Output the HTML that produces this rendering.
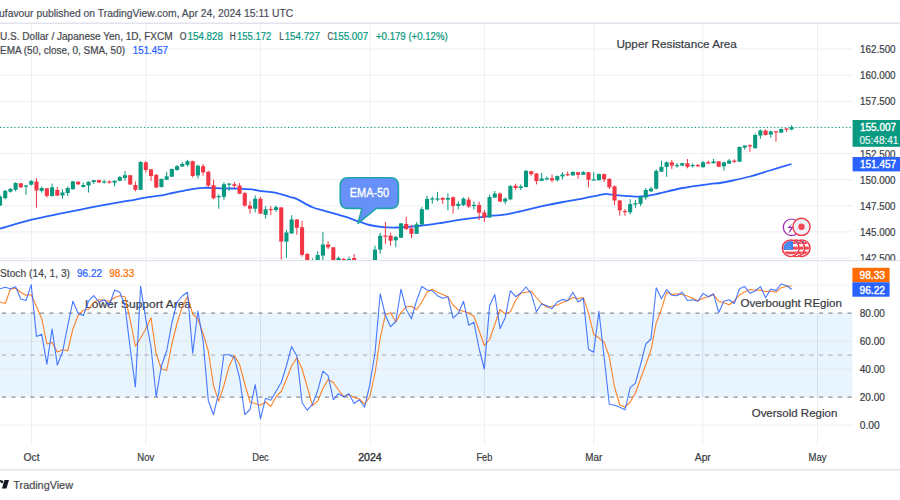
<!DOCTYPE html>
<html><head><meta charset="utf-8"><style>
html,body{margin:0;padding:0;background:#fff;}
body{width:900px;height:500px;overflow:hidden;position:relative;}
svg{position:absolute;left:0;top:0;font-family:'Liberation Sans', sans-serif;}
</style></head><body>
<svg width="900" height="500" viewBox="0 0 900 500">
<g stroke="#eceff3" stroke-width="1" fill="none">
<line x1="31.5" y1="24" x2="31.5" y2="260"/>
<line x1="31.5" y1="261" x2="31.5" y2="445.5"/>
<line x1="145.8" y1="24" x2="145.8" y2="260"/>
<line x1="145.8" y1="261" x2="145.8" y2="445.5"/>
<line x1="260.5" y1="24" x2="260.5" y2="260"/>
<line x1="260.5" y1="261" x2="260.5" y2="445.5"/>
<line x1="370.2" y1="24" x2="370.2" y2="260"/>
<line x1="370.2" y1="261" x2="370.2" y2="445.5"/>
<line x1="484.4" y1="24" x2="484.4" y2="260"/>
<line x1="484.4" y1="261" x2="484.4" y2="445.5"/>
<line x1="593.8" y1="24" x2="593.8" y2="260"/>
<line x1="593.8" y1="261" x2="593.8" y2="445.5"/>
<line x1="702.8" y1="24" x2="702.8" y2="260"/>
<line x1="702.8" y1="261" x2="702.8" y2="445.5"/>
<line x1="817.5" y1="24" x2="817.5" y2="260"/>
<line x1="817.5" y1="261" x2="817.5" y2="445.5"/>
<line x1="0" y1="49.0" x2="852.3" y2="49.0"/>
<line x1="0" y1="75.2" x2="852.3" y2="75.2"/>
<line x1="0" y1="101.3" x2="852.3" y2="101.3"/>
<line x1="0" y1="127.4" x2="852.3" y2="127.4"/>
<line x1="0" y1="153.5" x2="852.3" y2="153.5"/>
<line x1="0" y1="179.7" x2="852.3" y2="179.7"/>
<line x1="0" y1="205.8" x2="852.3" y2="205.8"/>
<line x1="0" y1="231.9" x2="852.3" y2="231.9"/>
<line x1="0" y1="258.0" x2="852.3" y2="258.0"/>
</g>
<rect x="0" y="313.2" width="852.3" height="84.0" fill="#2196F3" fill-opacity="0.1"/>
<g stroke="#eceff3" stroke-width="1">
<line x1="0" y1="285.2" x2="852.3" y2="285.2"/>
<line x1="0" y1="341.2" x2="852.3" y2="341.2"/>
<line x1="0" y1="369.2" x2="852.3" y2="369.2"/>
<line x1="0" y1="425.2" x2="852.3" y2="425.2"/>
</g>
<g stroke="#787B86" stroke-opacity="0.06" stroke-width="1">
<line x1="31.5" y1="313.2" x2="31.5" y2="397.2"/>
<line x1="145.8" y1="313.2" x2="145.8" y2="397.2"/>
<line x1="260.5" y1="313.2" x2="260.5" y2="397.2"/>
<line x1="370.2" y1="313.2" x2="370.2" y2="397.2"/>
<line x1="484.4" y1="313.2" x2="484.4" y2="397.2"/>
<line x1="593.8" y1="313.2" x2="593.8" y2="397.2"/>
<line x1="702.8" y1="313.2" x2="702.8" y2="397.2"/>
<line x1="817.5" y1="313.2" x2="817.5" y2="397.2"/>
<line x1="0" y1="341.2" x2="852.3" y2="341.2"/>
<line x1="0" y1="369.2" x2="852.3" y2="369.2"/>
</g>
<line x1="0" y1="313.2" x2="852.3" y2="313.2" stroke="#8c8f98" stroke-width="1.25" stroke-dasharray="4.2 5.3" stroke-dashoffset="-1.9"/>
<line x1="0" y1="355.2" x2="852.3" y2="355.2" stroke="#b3b6bd" stroke-width="1.25" stroke-dasharray="4.2 5.3" stroke-dashoffset="-1.9"/>
<line x1="0" y1="397.2" x2="852.3" y2="397.2" stroke="#8c8f98" stroke-width="1.25" stroke-dasharray="4.2 5.3" stroke-dashoffset="-1.9"/>
<rect x="0" y="22.5" width="900" height="1.5" fill="#e0e3eb"/>
<rect x="0" y="260" width="900" height="1.2" fill="#e0e3eb"/>
<rect x="0" y="469" width="900" height="1.5" fill="#e0e3eb"/>
<defs><clipPath id="pp"><rect x="0" y="24" width="852.3" height="236"/></clipPath><clipPath id="sp"><rect x="0" y="261.2" width="852.3" height="184"/></clipPath></defs>
<g clip-path="url(#pp)">
<line x1="0" y1="127.4" x2="852.3" y2="127.4" stroke="#089981" stroke-width="1" stroke-dasharray="1.2 2.4"/>
<path d="M0.00,228.70 C5.25,227.20 21.50,222.20 31.50,219.70 C41.50,217.20 50.25,215.70 60.00,213.70 C69.75,211.70 80.00,209.62 90.00,207.70 C100.00,205.78 112.63,203.52 120.00,202.20 C127.37,200.88 129.97,200.57 134.20,199.80 C138.43,199.03 140.37,198.43 145.40,197.60 C150.43,196.77 157.30,196.10 164.40,194.80 C171.50,193.50 181.50,190.97 188.00,189.80 C194.50,188.63 197.47,188.03 203.40,187.80 C209.33,187.57 218.00,188.27 223.60,188.40 C229.20,188.53 232.33,188.43 237.00,188.60 C241.67,188.77 247.48,188.97 251.60,189.40 C255.72,189.83 257.78,190.67 261.70,191.20 C265.62,191.73 270.38,191.63 275.10,192.60 C279.82,193.57 286.40,195.95 290.00,197.00 C293.60,198.05 293.07,197.23 296.70,198.90 C300.33,200.57 306.88,204.93 311.80,207.00 C316.72,209.07 320.67,209.68 326.20,211.30 C331.73,212.92 339.60,215.02 345.00,216.70 C350.40,218.38 354.52,220.02 358.60,221.40 C362.68,222.78 365.43,224.03 369.50,225.00 C373.57,225.97 378.22,226.78 383.00,227.20 C387.78,227.62 392.12,227.72 398.20,227.50 C404.28,227.28 412.38,226.65 419.50,225.90 C426.62,225.15 433.65,224.08 440.90,223.00 C448.15,221.92 454.92,220.55 463.00,219.40 C471.08,218.25 482.58,216.88 489.40,216.10 C496.22,215.32 498.85,215.47 503.90,214.70 C508.95,213.93 513.32,212.92 519.70,211.50 C526.08,210.08 534.98,207.78 542.20,206.20 C549.42,204.62 556.80,203.17 563.00,202.00 C569.20,200.83 572.72,200.48 579.40,199.20 C586.08,197.92 598.05,195.12 603.10,194.30 C608.15,193.48 606.62,194.08 609.70,194.30 C612.78,194.52 616.75,195.22 621.60,195.60 C626.45,195.98 633.57,196.73 638.80,196.60 C644.03,196.47 645.70,196.23 653.00,194.80 C660.30,193.37 673.27,189.78 682.60,188.00 C691.93,186.22 702.77,184.93 709.00,184.10 C715.23,183.27 716.00,183.60 720.00,183.00 C724.00,182.40 728.00,181.58 733.00,180.50 C738.00,179.42 743.83,178.17 750.00,176.50 C756.17,174.83 763.08,172.58 770.00,170.50 C776.92,168.42 787.92,165.08 791.50,164.00" fill="none" stroke="#2962FF" stroke-width="1.8"/>
<rect x="-0.50" y="195.0" width="1" height="11.00" fill="#089981"/>
<rect x="-2.05" y="196.5" width="4.1" height="9.00" fill="#089981"/>
<rect x="4.71" y="189.8" width="1" height="9.50" fill="#089981"/>
<rect x="3.16" y="190.9" width="4.1" height="7.30" fill="#089981"/>
<rect x="9.92" y="188.0" width="1" height="4.60" fill="#089981"/>
<rect x="8.37" y="189.0" width="4.1" height="2.70" fill="#089981"/>
<rect x="15.12" y="182.2" width="1" height="9.20" fill="#089981"/>
<rect x="13.57" y="183.0" width="4.1" height="6.80" fill="#089981"/>
<rect x="20.33" y="183.0" width="1" height="5.00" fill="#F23645"/>
<rect x="18.78" y="183.3" width="4.1" height="4.00" fill="#F23645"/>
<rect x="25.54" y="185.0" width="1" height="9.80" fill="#089981"/>
<rect x="23.99" y="185.5" width="4.1" height="1.20" fill="#089981"/>
<rect x="30.75" y="180.0" width="1" height="5.60" fill="#089981"/>
<rect x="29.20" y="181.0" width="4.1" height="3.70" fill="#089981"/>
<rect x="35.96" y="178.0" width="1" height="29.70" fill="#F23645"/>
<rect x="34.41" y="181.6" width="4.1" height="8.90" fill="#F23645"/>
<rect x="41.16" y="186.4" width="1" height="6.20" fill="#089981"/>
<rect x="39.61" y="188.0" width="4.1" height="2.90" fill="#089981"/>
<rect x="46.37" y="188.0" width="1" height="9.60" fill="#F23645"/>
<rect x="44.82" y="188.3" width="4.1" height="7.60" fill="#F23645"/>
<rect x="51.58" y="183.6" width="1" height="13.20" fill="#089981"/>
<rect x="50.03" y="187.3" width="4.1" height="8.60" fill="#089981"/>
<rect x="56.79" y="187.0" width="1" height="9.00" fill="#F23645"/>
<rect x="55.24" y="190.0" width="4.1" height="5.60" fill="#F23645"/>
<rect x="62.00" y="189.2" width="1" height="9.50" fill="#089981"/>
<rect x="60.45" y="192.5" width="4.1" height="2.90" fill="#089981"/>
<rect x="67.20" y="186.4" width="1" height="9.60" fill="#089981"/>
<rect x="65.65" y="188.0" width="4.1" height="5.00" fill="#089981"/>
<rect x="72.41" y="181.0" width="1" height="8.60" fill="#089981"/>
<rect x="70.86" y="181.4" width="4.1" height="7.80" fill="#089981"/>
<rect x="77.62" y="181.5" width="1" height="3.30" fill="#F23645"/>
<rect x="76.07" y="181.7" width="4.1" height="2.70" fill="#F23645"/>
<rect x="82.83" y="182.5" width="1" height="5.00" fill="#089981"/>
<rect x="81.28" y="185.0" width="4.1" height="2.00" fill="#089981"/>
<rect x="88.04" y="181.4" width="1" height="11.10" fill="#089981"/>
<rect x="86.49" y="181.7" width="4.1" height="3.80" fill="#089981"/>
<rect x="93.24" y="180.0" width="1" height="4.00" fill="#089981"/>
<rect x="91.69" y="180.2" width="4.1" height="1.80" fill="#089981"/>
<rect x="98.45" y="180.0" width="1" height="3.00" fill="#F23645"/>
<rect x="96.90" y="180.0" width="4.1" height="2.50" fill="#F23645"/>
<rect x="103.66" y="179.7" width="1" height="3.90" fill="#089981"/>
<rect x="102.11" y="181.4" width="4.1" height="1.20" fill="#089981"/>
<rect x="108.87" y="180.5" width="1" height="3.10" fill="#F23645"/>
<rect x="107.32" y="181.4" width="4.1" height="1.30" fill="#F23645"/>
<rect x="114.08" y="180.2" width="1" height="6.20" fill="#089981"/>
<rect x="112.53" y="180.8" width="4.1" height="1.90" fill="#089981"/>
<rect x="119.28" y="176.3" width="1" height="5.00" fill="#089981"/>
<rect x="117.73" y="176.9" width="4.1" height="3.90" fill="#089981"/>
<rect x="124.49" y="171.0" width="1" height="9.80" fill="#089981"/>
<rect x="122.94" y="175.2" width="4.1" height="2.80" fill="#089981"/>
<rect x="129.70" y="175.0" width="1" height="10.00" fill="#F23645"/>
<rect x="128.15" y="175.2" width="4.1" height="9.30" fill="#F23645"/>
<rect x="134.91" y="181.4" width="1" height="10.00" fill="#F23645"/>
<rect x="133.36" y="185.0" width="4.1" height="4.80" fill="#F23645"/>
<rect x="140.12" y="161.2" width="1" height="28.80" fill="#089981"/>
<rect x="138.57" y="162.0" width="4.1" height="27.80" fill="#089981"/>
<rect x="145.32" y="161.2" width="1" height="11.20" fill="#F23645"/>
<rect x="143.77" y="162.3" width="4.1" height="7.70" fill="#F23645"/>
<rect x="150.53" y="169.0" width="1" height="12.00" fill="#F23645"/>
<rect x="148.98" y="169.3" width="4.1" height="6.70" fill="#F23645"/>
<rect x="155.74" y="174.0" width="1" height="14.00" fill="#F23645"/>
<rect x="154.19" y="174.9" width="4.1" height="12.60" fill="#F23645"/>
<rect x="160.95" y="178.5" width="1" height="9.00" fill="#089981"/>
<rect x="159.40" y="178.9" width="4.1" height="8.10" fill="#089981"/>
<rect x="166.16" y="171.8" width="1" height="8.40" fill="#089981"/>
<rect x="164.61" y="176.3" width="4.1" height="3.40" fill="#089981"/>
<rect x="171.36" y="168.5" width="1" height="8.50" fill="#089981"/>
<rect x="169.81" y="169.0" width="4.1" height="7.70" fill="#089981"/>
<rect x="176.57" y="165.0" width="1" height="5.70" fill="#089981"/>
<rect x="175.02" y="166.2" width="4.1" height="3.80" fill="#089981"/>
<rect x="181.78" y="162.0" width="1" height="4.80" fill="#089981"/>
<rect x="180.23" y="164.0" width="4.1" height="2.60" fill="#089981"/>
<rect x="186.99" y="159.9" width="1" height="6.70" fill="#089981"/>
<rect x="185.44" y="161.2" width="4.1" height="3.70" fill="#089981"/>
<rect x="192.20" y="160.6" width="1" height="16.80" fill="#F23645"/>
<rect x="190.65" y="161.2" width="4.1" height="14.80" fill="#F23645"/>
<rect x="197.40" y="164.6" width="1" height="13.90" fill="#089981"/>
<rect x="195.85" y="165.7" width="4.1" height="9.80" fill="#089981"/>
<rect x="202.61" y="164.0" width="1" height="11.80" fill="#F23645"/>
<rect x="201.06" y="166.2" width="4.1" height="6.20" fill="#F23645"/>
<rect x="207.82" y="170.7" width="1" height="16.80" fill="#F23645"/>
<rect x="206.27" y="171.8" width="4.1" height="13.80" fill="#F23645"/>
<rect x="213.03" y="179.7" width="1" height="19.60" fill="#F23645"/>
<rect x="211.48" y="185.3" width="4.1" height="12.90" fill="#F23645"/>
<rect x="218.24" y="194.2" width="1" height="14.50" fill="#089981"/>
<rect x="216.69" y="196.0" width="4.1" height="1.20" fill="#089981"/>
<rect x="223.44" y="182.2" width="1" height="17.60" fill="#089981"/>
<rect x="221.89" y="184.2" width="4.1" height="12.60" fill="#089981"/>
<rect x="228.65" y="183.0" width="1" height="7.90" fill="#089981"/>
<rect x="227.10" y="183.6" width="4.1" height="1.20" fill="#089981"/>
<rect x="233.86" y="181.9" width="1" height="6.10" fill="#F23645"/>
<rect x="232.31" y="184.2" width="4.1" height="1.60" fill="#F23645"/>
<rect x="239.07" y="183.0" width="1" height="11.00" fill="#F23645"/>
<rect x="237.52" y="185.6" width="4.1" height="8.10" fill="#F23645"/>
<rect x="244.28" y="192.0" width="1" height="14.80" fill="#F23645"/>
<rect x="242.73" y="193.1" width="4.1" height="12.50" fill="#F23645"/>
<rect x="249.48" y="201.2" width="1" height="12.40" fill="#F23645"/>
<rect x="247.93" y="205.6" width="4.1" height="3.10" fill="#F23645"/>
<rect x="254.69" y="195.4" width="1" height="17.00" fill="#089981"/>
<rect x="253.14" y="198.7" width="4.1" height="10.00" fill="#089981"/>
<rect x="259.90" y="197.0" width="1" height="17.00" fill="#F23645"/>
<rect x="258.35" y="198.7" width="4.1" height="14.90" fill="#F23645"/>
<rect x="265.11" y="206.2" width="1" height="12.40" fill="#089981"/>
<rect x="263.56" y="209.3" width="4.1" height="5.60" fill="#089981"/>
<rect x="270.32" y="206.2" width="1" height="8.70" fill="#F23645"/>
<rect x="268.77" y="209.0" width="4.1" height="1.20" fill="#F23645"/>
<rect x="275.52" y="205.6" width="1" height="6.20" fill="#089981"/>
<rect x="273.97" y="207.2" width="4.1" height="2.80" fill="#089981"/>
<rect x="280.73" y="207.0" width="1" height="52.60" fill="#F23645"/>
<rect x="279.18" y="207.4" width="4.1" height="34.20" fill="#F23645"/>
<rect x="285.94" y="229.6" width="1" height="28.10" fill="#089981"/>
<rect x="284.39" y="232.5" width="4.1" height="9.10" fill="#089981"/>
<rect x="291.15" y="215.2" width="1" height="18.80" fill="#089981"/>
<rect x="289.60" y="219.5" width="4.1" height="14.00" fill="#089981"/>
<rect x="296.36" y="219.0" width="1" height="15.70" fill="#F23645"/>
<rect x="294.81" y="219.5" width="4.1" height="8.30" fill="#F23645"/>
<rect x="301.56" y="221.0" width="1" height="35.60" fill="#F23645"/>
<rect x="300.01" y="227.2" width="4.1" height="27.60" fill="#F23645"/>
<rect x="306.77" y="253.0" width="1" height="17.00" fill="#F23645"/>
<rect x="305.22" y="254.0" width="4.1" height="8.00" fill="#F23645"/>
<rect x="311.98" y="258.5" width="1" height="16.50" fill="#089981"/>
<rect x="310.43" y="262.0" width="4.1" height="8.00" fill="#089981"/>
<rect x="317.19" y="251.2" width="1" height="18.80" fill="#089981"/>
<rect x="315.64" y="255.0" width="4.1" height="10.00" fill="#089981"/>
<rect x="322.40" y="232.0" width="1" height="30.00" fill="#089981"/>
<rect x="320.85" y="244.5" width="4.1" height="11.10" fill="#089981"/>
<rect x="327.60" y="241.2" width="1" height="7.80" fill="#F23645"/>
<rect x="326.05" y="244.5" width="4.1" height="2.80" fill="#F23645"/>
<rect x="332.81" y="247.0" width="1" height="21.00" fill="#F23645"/>
<rect x="331.26" y="247.3" width="4.1" height="17.70" fill="#F23645"/>
<rect x="338.02" y="256.6" width="1" height="13.40" fill="#089981"/>
<rect x="336.47" y="258.0" width="4.1" height="7.00" fill="#089981"/>
<rect x="343.23" y="258.0" width="1" height="12.00" fill="#F23645"/>
<rect x="341.68" y="259.0" width="4.1" height="6.00" fill="#F23645"/>
<rect x="348.44" y="256.6" width="1" height="13.40" fill="#089981"/>
<rect x="346.89" y="259.0" width="4.1" height="6.00" fill="#089981"/>
<rect x="353.64" y="254.0" width="1" height="16.00" fill="#F23645"/>
<rect x="352.09" y="258.0" width="4.1" height="7.00" fill="#F23645"/>
<rect x="358.85" y="262.0" width="1" height="13.00" fill="#F23645"/>
<rect x="357.30" y="265.0" width="4.1" height="5.00" fill="#F23645"/>
<rect x="364.06" y="263.0" width="1" height="17.00" fill="#089981"/>
<rect x="362.51" y="265.0" width="4.1" height="10.00" fill="#089981"/>
<rect x="369.27" y="262.0" width="1" height="13.00" fill="#089981"/>
<rect x="367.72" y="262.0" width="4.1" height="10.00" fill="#089981"/>
<rect x="374.48" y="245.6" width="1" height="19.40" fill="#089981"/>
<rect x="372.93" y="249.7" width="4.1" height="12.30" fill="#089981"/>
<rect x="379.68" y="232.8" width="1" height="21.00" fill="#089981"/>
<rect x="378.13" y="235.7" width="4.1" height="14.00" fill="#089981"/>
<rect x="384.89" y="221.8" width="1" height="22.10" fill="#F23645"/>
<rect x="383.34" y="235.5" width="4.1" height="1.20" fill="#F23645"/>
<rect x="390.10" y="232.5" width="1" height="13.10" fill="#F23645"/>
<rect x="388.55" y="235.7" width="4.1" height="5.00" fill="#F23645"/>
<rect x="395.31" y="235.7" width="1" height="11.50" fill="#089981"/>
<rect x="393.76" y="237.0" width="4.1" height="3.30" fill="#089981"/>
<rect x="400.52" y="223.0" width="1" height="15.00" fill="#089981"/>
<rect x="398.97" y="223.4" width="4.1" height="14.30" fill="#089981"/>
<rect x="405.72" y="216.9" width="1" height="12.60" fill="#F23645"/>
<rect x="404.17" y="224.0" width="4.1" height="5.20" fill="#F23645"/>
<rect x="410.93" y="225.0" width="1" height="13.20" fill="#F23645"/>
<rect x="409.38" y="228.4" width="4.1" height="5.40" fill="#F23645"/>
<rect x="416.14" y="222.0" width="1" height="12.00" fill="#089981"/>
<rect x="414.59" y="224.3" width="4.1" height="9.50" fill="#089981"/>
<rect x="421.35" y="207.0" width="1" height="18.00" fill="#089981"/>
<rect x="419.80" y="209.2" width="4.1" height="15.40" fill="#089981"/>
<rect x="426.56" y="195.6" width="1" height="14.40" fill="#089981"/>
<rect x="425.01" y="198.9" width="4.1" height="10.60" fill="#089981"/>
<rect x="431.76" y="196.4" width="1" height="7.40" fill="#089981"/>
<rect x="430.21" y="198.4" width="4.1" height="1.20" fill="#089981"/>
<rect x="436.97" y="191.8" width="1" height="9.50" fill="#089981"/>
<rect x="435.42" y="198.5" width="4.1" height="1.20" fill="#089981"/>
<rect x="442.18" y="197.0" width="1" height="7.00" fill="#F23645"/>
<rect x="440.63" y="198.0" width="4.1" height="1.70" fill="#F23645"/>
<rect x="447.39" y="193.4" width="1" height="16.90" fill="#089981"/>
<rect x="445.84" y="198.0" width="4.1" height="1.70" fill="#089981"/>
<rect x="452.60" y="196.4" width="1" height="17.20" fill="#F23645"/>
<rect x="451.05" y="197.2" width="4.1" height="8.70" fill="#F23645"/>
<rect x="457.80" y="201.3" width="1" height="8.20" fill="#089981"/>
<rect x="456.25" y="203.8" width="4.1" height="2.10" fill="#089981"/>
<rect x="463.01" y="197.5" width="1" height="8.50" fill="#089981"/>
<rect x="461.46" y="198.6" width="4.1" height="6.40" fill="#089981"/>
<rect x="468.22" y="197.0" width="1" height="11.00" fill="#F23645"/>
<rect x="466.67" y="199.6" width="4.1" height="6.90" fill="#F23645"/>
<rect x="473.43" y="201.6" width="1" height="7.90" fill="#089981"/>
<rect x="471.88" y="204.9" width="4.1" height="1.20" fill="#089981"/>
<rect x="478.64" y="201.6" width="1" height="18.40" fill="#F23645"/>
<rect x="477.09" y="204.9" width="4.1" height="7.90" fill="#F23645"/>
<rect x="483.84" y="210.0" width="1" height="12.00" fill="#F23645"/>
<rect x="482.29" y="212.5" width="4.1" height="4.90" fill="#F23645"/>
<rect x="489.05" y="194.6" width="1" height="23.40" fill="#089981"/>
<rect x="487.50" y="197.0" width="4.1" height="20.40" fill="#089981"/>
<rect x="494.26" y="191.0" width="1" height="7.00" fill="#089981"/>
<rect x="492.71" y="193.6" width="4.1" height="4.00" fill="#089981"/>
<rect x="499.47" y="192.5" width="1" height="9.50" fill="#F23645"/>
<rect x="497.92" y="193.6" width="4.1" height="8.00" fill="#F23645"/>
<rect x="504.68" y="197.6" width="1" height="6.60" fill="#089981"/>
<rect x="503.13" y="198.7" width="4.1" height="2.90" fill="#089981"/>
<rect x="509.88" y="185.0" width="1" height="15.20" fill="#089981"/>
<rect x="508.33" y="186.1" width="4.1" height="13.20" fill="#089981"/>
<rect x="515.09" y="183.7" width="1" height="6.00" fill="#F23645"/>
<rect x="513.54" y="185.7" width="4.1" height="2.30" fill="#F23645"/>
<rect x="520.30" y="184.4" width="1" height="5.90" fill="#089981"/>
<rect x="518.75" y="186.4" width="4.1" height="1.60" fill="#089981"/>
<rect x="525.51" y="169.9" width="1" height="17.60" fill="#089981"/>
<rect x="523.96" y="170.8" width="4.1" height="16.20" fill="#089981"/>
<rect x="530.72" y="171.0" width="1" height="4.80" fill="#F23645"/>
<rect x="529.17" y="171.2" width="4.1" height="3.00" fill="#F23645"/>
<rect x="535.92" y="173.2" width="1" height="11.20" fill="#F23645"/>
<rect x="534.37" y="173.5" width="4.1" height="7.60" fill="#F23645"/>
<rect x="541.13" y="172.9" width="1" height="8.30" fill="#089981"/>
<rect x="539.58" y="178.5" width="4.1" height="2.30" fill="#089981"/>
<rect x="546.34" y="176.5" width="1" height="3.90" fill="#089981"/>
<rect x="544.79" y="178.2" width="4.1" height="1.20" fill="#089981"/>
<rect x="551.55" y="174.5" width="1" height="7.90" fill="#F23645"/>
<rect x="550.00" y="178.2" width="4.1" height="2.20" fill="#F23645"/>
<rect x="556.76" y="175.5" width="1" height="5.90" fill="#089981"/>
<rect x="555.21" y="176.1" width="4.1" height="4.10" fill="#089981"/>
<rect x="561.96" y="172.2" width="1" height="7.20" fill="#089981"/>
<rect x="560.41" y="174.5" width="4.1" height="1.90" fill="#089981"/>
<rect x="567.17" y="171.5" width="1" height="4.60" fill="#F23645"/>
<rect x="565.62" y="174.1" width="4.1" height="1.20" fill="#F23645"/>
<rect x="572.38" y="171.5" width="1" height="4.30" fill="#089981"/>
<rect x="570.83" y="171.9" width="4.1" height="3.50" fill="#089981"/>
<rect x="577.59" y="172.0" width="1" height="6.70" fill="#F23645"/>
<rect x="576.04" y="172.2" width="4.1" height="2.60" fill="#F23645"/>
<rect x="582.80" y="171.0" width="1" height="4.00" fill="#089981"/>
<rect x="581.25" y="172.2" width="4.1" height="2.60" fill="#089981"/>
<rect x="588.00" y="172.0" width="1" height="15.30" fill="#F23645"/>
<rect x="586.45" y="172.2" width="4.1" height="7.60" fill="#F23645"/>
<rect x="593.21" y="172.2" width="1" height="8.30" fill="#089981"/>
<rect x="591.66" y="179.4" width="4.1" height="1.20" fill="#089981"/>
<rect x="598.42" y="173.5" width="1" height="7.20" fill="#089981"/>
<rect x="596.87" y="174.1" width="4.1" height="6.00" fill="#089981"/>
<rect x="603.63" y="173.5" width="1" height="8.50" fill="#F23645"/>
<rect x="602.08" y="174.1" width="4.1" height="5.30" fill="#F23645"/>
<rect x="608.84" y="178.0" width="1" height="11.00" fill="#F23645"/>
<rect x="607.29" y="179.0" width="4.1" height="8.30" fill="#F23645"/>
<rect x="614.04" y="185.3" width="1" height="19.60" fill="#F23645"/>
<rect x="612.49" y="186.4" width="4.1" height="14.10" fill="#F23645"/>
<rect x="619.25" y="199.9" width="1" height="15.80" fill="#F23645"/>
<rect x="617.70" y="200.5" width="4.1" height="9.90" fill="#F23645"/>
<rect x="624.46" y="209.1" width="1" height="6.60" fill="#F23645"/>
<rect x="622.91" y="211.0" width="4.1" height="1.20" fill="#F23645"/>
<rect x="629.67" y="199.2" width="1" height="15.20" fill="#089981"/>
<rect x="628.12" y="204.1" width="4.1" height="8.30" fill="#089981"/>
<rect x="634.88" y="199.9" width="1" height="7.90" fill="#089981"/>
<rect x="633.33" y="203.2" width="4.1" height="1.30" fill="#089981"/>
<rect x="640.08" y="195.9" width="1" height="10.30" fill="#089981"/>
<rect x="638.53" y="197.0" width="4.1" height="6.80" fill="#089981"/>
<rect x="645.29" y="188.0" width="1" height="11.90" fill="#089981"/>
<rect x="643.74" y="190.0" width="4.1" height="7.50" fill="#089981"/>
<rect x="650.50" y="186.7" width="1" height="5.30" fill="#089981"/>
<rect x="648.95" y="188.6" width="4.1" height="2.70" fill="#089981"/>
<rect x="655.71" y="169.3" width="1" height="20.10" fill="#089981"/>
<rect x="654.16" y="170.9" width="4.1" height="17.80" fill="#089981"/>
<rect x="660.92" y="160.6" width="1" height="11.40" fill="#089981"/>
<rect x="659.37" y="166.9" width="4.1" height="4.70" fill="#089981"/>
<rect x="666.12" y="161.4" width="1" height="15.40" fill="#089981"/>
<rect x="664.57" y="162.3" width="4.1" height="4.60" fill="#089981"/>
<rect x="671.33" y="160.0" width="1" height="8.90" fill="#F23645"/>
<rect x="669.78" y="162.3" width="4.1" height="3.30" fill="#F23645"/>
<rect x="676.54" y="163.0" width="1" height="4.60" fill="#089981"/>
<rect x="674.99" y="165.0" width="4.1" height="1.20" fill="#089981"/>
<rect x="681.75" y="162.7" width="1" height="3.30" fill="#089981"/>
<rect x="680.20" y="163.2" width="4.1" height="2.40" fill="#089981"/>
<rect x="686.96" y="159.0" width="1" height="9.30" fill="#F23645"/>
<rect x="685.41" y="163.2" width="4.1" height="3.70" fill="#F23645"/>
<rect x="692.16" y="163.2" width="1" height="4.40" fill="#089981"/>
<rect x="690.61" y="165.0" width="4.1" height="1.20" fill="#089981"/>
<rect x="697.37" y="164.0" width="1" height="3.20" fill="#F23645"/>
<rect x="695.82" y="165.0" width="4.1" height="1.20" fill="#F23645"/>
<rect x="702.58" y="161.0" width="1" height="6.60" fill="#089981"/>
<rect x="701.03" y="162.3" width="4.1" height="4.90" fill="#089981"/>
<rect x="707.79" y="160.6" width="1" height="3.20" fill="#F23645"/>
<rect x="706.24" y="162.3" width="4.1" height="1.30" fill="#F23645"/>
<rect x="713.00" y="159.0" width="1" height="4.40" fill="#089981"/>
<rect x="711.45" y="161.4" width="4.1" height="1.80" fill="#089981"/>
<rect x="718.20" y="161.0" width="1" height="6.20" fill="#F23645"/>
<rect x="716.65" y="161.4" width="4.1" height="5.30" fill="#F23645"/>
<rect x="723.41" y="161.7" width="1" height="8.90" fill="#089981"/>
<rect x="721.86" y="162.3" width="4.1" height="4.00" fill="#089981"/>
<rect x="728.62" y="159.0" width="1" height="5.00" fill="#089981"/>
<rect x="727.07" y="160.6" width="4.1" height="3.00" fill="#089981"/>
<rect x="733.83" y="159.3" width="1" height="3.70" fill="#F23645"/>
<rect x="732.28" y="160.6" width="4.1" height="1.20" fill="#F23645"/>
<rect x="739.04" y="146.4" width="1" height="15.60" fill="#089981"/>
<rect x="737.49" y="147.0" width="4.1" height="14.70" fill="#089981"/>
<rect x="744.24" y="145.3" width="1" height="4.40" fill="#089981"/>
<rect x="742.69" y="145.5" width="4.1" height="2.10" fill="#089981"/>
<rect x="749.45" y="144.3" width="1" height="7.50" fill="#F23645"/>
<rect x="747.90" y="145.2" width="4.1" height="1.20" fill="#F23645"/>
<rect x="754.66" y="133.5" width="1" height="15.00" fill="#089981"/>
<rect x="753.11" y="135.0" width="4.1" height="13.20" fill="#089981"/>
<rect x="759.87" y="129.4" width="1" height="9.50" fill="#089981"/>
<rect x="758.32" y="130.5" width="4.1" height="5.00" fill="#089981"/>
<rect x="765.08" y="129.5" width="1" height="6.00" fill="#F23645"/>
<rect x="763.53" y="130.5" width="4.1" height="4.50" fill="#F23645"/>
<rect x="770.28" y="130.8" width="1" height="6.90" fill="#089981"/>
<rect x="768.73" y="131.4" width="4.1" height="3.20" fill="#089981"/>
<rect x="775.49" y="131.0" width="1" height="10.60" fill="#F23645"/>
<rect x="773.94" y="131.2" width="4.1" height="1.20" fill="#F23645"/>
<rect x="780.70" y="128.5" width="1" height="4.50" fill="#089981"/>
<rect x="779.15" y="129.0" width="4.1" height="3.60" fill="#089981"/>
<rect x="785.91" y="128.3" width="1" height="3.60" fill="#F23645"/>
<rect x="784.36" y="128.5" width="4.1" height="1.20" fill="#F23645"/>
<rect x="791.12" y="125.1" width="1" height="5.20" fill="#089981"/>
<rect x="789.57" y="127.2" width="4.1" height="2.20" fill="#089981"/>
</g>
<g clip-path="url(#sp)">
<text x="85.1" y="307.9" font-size="11.3" fill="#131722" text-anchor="start" font-weight="normal" textLength="105.9" lengthAdjust="spacingAndGlyphs" stroke="#131722" stroke-width="0.22" opacity="0.85">Lower Support Area</text>
<text x="740.4" y="307.4" font-size="11.3" fill="#131722" text-anchor="start" font-weight="normal" textLength="101.6" lengthAdjust="spacingAndGlyphs" stroke="#131722" stroke-width="0.22" opacity="0.85">Overbought REgion</text>
<text x="751.7" y="416.7" font-size="11.3" fill="#131722" text-anchor="start" font-weight="normal" textLength="85.6" lengthAdjust="spacingAndGlyphs" stroke="#131722" stroke-width="0.22" opacity="0.85">Oversold Region</text>
<polyline points="0.0,302.0 5.2,303.5 10.4,289.2 15.6,288.2 20.8,292.2 26.0,295.2 31.2,294.8 36.5,306.5 41.7,318.5 46.9,344.0 52.1,342.5 57.3,352.0 62.5,349.7 67.7,350.7 72.9,329.0 78.1,315.5 83.3,310.2 88.5,309.5 93.7,302.3 99.0,299.7 104.2,300.2 109.4,301.2 114.6,297.5 119.8,295.7 125.0,296.7 130.2,320.0 135.4,346.2 140.6,338.0 145.8,329.0 151.0,317.7 156.2,354.0 161.4,369.0 166.7,370.5 171.9,344.0 177.1,323.0 182.3,306.5 187.5,296.7 192.7,314.0 197.9,319.2 203.1,333.5 208.3,351.0 213.5,385.5 218.7,401.2 223.9,385.5 229.2,366.0 234.4,355.5 239.6,364.5 244.8,384.0 250.0,402.0 255.2,403.5 260.4,405.3 265.6,402.0 270.8,406.5 276.0,396.7 281.2,391.5 286.4,379.5 291.6,366.0 296.9,357.7 302.1,369.0 307.3,387.0 312.5,405.7 317.7,401.2 322.9,388.5 328.1,379.5 333.3,382.5 338.5,390.0 343.7,396.7 348.9,394.5 354.1,397.5 359.4,399.0 364.6,404.2 369.8,396.7 375.0,373.5 380.2,338.0 385.4,314.7 390.6,312.8 395.8,322.0 401.0,312.5 406.2,306.8 411.4,306.2 416.6,309.8 421.8,302.0 427.1,292.2 432.3,289.2 437.5,292.2 442.7,294.5 447.9,296.7 453.1,305.0 458.3,309.8 463.5,311.3 468.7,313.2 473.9,316.2 479.1,330.5 484.3,345.5 489.6,339.5 494.8,324.5 500.0,309.5 505.2,314.0 510.4,311.7 515.6,300.5 520.8,293.3 526.0,292.2 531.2,291.2 536.4,297.5 541.6,303.5 546.8,307.2 552.0,306.2 557.3,305.0 562.5,302.4 567.7,300.5 572.9,297.5 578.1,298.7 583.3,297.5 588.5,313.2 593.7,334.2 598.9,338.0 604.1,342.0 609.3,357.0 614.5,387.0 619.8,405.0 625.0,407.2 630.2,402.0 635.4,393.0 640.6,378.7 645.8,364.5 651.0,350.0 656.2,323.0 661.4,309.5 666.6,292.2 671.8,294.5 677.0,293.7 682.2,294.5 687.5,296.0 692.7,298.2 697.9,300.8 703.1,298.2 708.3,296.7 713.5,294.8 718.7,301.2 723.9,302.7 729.1,304.7 734.3,301.2 739.5,295.0 744.7,291.7 750.0,289.5 755.2,290.3 760.4,290.0 765.6,291.7 770.8,291.0 776.0,292.3 781.2,287.7 786.4,286.3 791.6,286.0" fill="none" stroke="#FF6D00" stroke-opacity="0.85" stroke-width="1.1" stroke-linejoin="round"/>
<polyline points="0.0,288.8 5.2,287.3 10.4,288.8 15.6,286.7 20.8,299.0 26.0,300.5 31.2,284.7 36.5,336.5 41.7,334.2 46.9,364.2 52.1,329.0 57.3,365.0 62.5,352.0 67.7,326.0 72.9,301.2 78.1,313.2 83.3,315.5 88.5,301.2 93.7,295.7 99.0,302.0 104.2,299.7 109.4,305.0 114.6,290.0 119.8,292.2 125.0,305.7 130.2,348.5 135.4,387.0 140.6,286.2 145.8,319.0 151.0,347.0 156.2,396.7 161.4,366.0 166.7,351.0 171.9,323.0 177.1,302.0 182.3,296.0 187.5,292.2 192.7,353.2 197.9,311.0 203.1,341.0 208.3,400.5 213.5,414.7 218.7,393.0 223.9,354.7 229.2,354.7 234.4,357.7 239.6,378.0 244.8,414.7 250.0,409.5 255.2,384.7 260.4,419.0 265.6,398.2 270.8,400.2 276.0,391.5 281.2,382.5 286.4,366.0 291.6,346.5 296.9,356.2 302.1,402.7 307.3,410.2 312.5,404.2 317.7,390.7 322.9,371.2 328.1,375.7 333.3,399.7 338.5,393.7 343.7,396.7 348.9,393.7 354.1,403.5 359.4,399.7 364.6,407.2 369.8,384.7 375.0,353.0 380.2,293.7 385.4,315.5 390.6,326.7 395.8,321.5 401.0,289.2 406.2,309.5 411.4,318.8 416.6,300.5 421.8,286.5 427.1,290.0 432.3,290.7 437.5,295.7 442.7,298.2 447.9,296.7 453.1,318.2 458.3,313.2 463.5,301.2 468.7,325.2 473.9,322.2 479.1,348.5 484.3,369.0 489.6,305.7 494.8,294.5 500.0,328.7 505.2,317.7 510.4,290.7 515.6,296.7 520.8,293.0 526.0,287.0 531.2,293.7 536.4,311.7 541.6,303.8 546.8,305.7 552.0,308.7 557.3,302.0 562.5,299.4 567.7,300.8 572.9,292.2 578.1,302.0 583.3,298.2 588.5,349.2 593.7,352.2 598.9,311.3 604.1,357.0 609.3,404.2 614.5,405.3 619.8,407.2 625.0,409.8 630.2,387.7 635.4,383.2 640.6,364.5 645.8,344.0 651.0,339.0 656.2,287.7 661.4,298.7 666.6,289.7 671.8,295.2 677.0,295.7 682.2,292.2 687.5,300.5 692.7,299.7 697.9,301.2 703.1,293.4 708.3,296.7 713.5,293.7 718.7,312.5 723.9,301.2 729.1,299.7 734.3,303.5 739.5,288.7 744.7,286.6 750.0,293.3 755.2,291.0 760.4,286.6 765.6,297.7 770.8,289.0 776.0,290.6 781.2,284.0 786.4,285.5 791.6,289.3" fill="none" stroke="#2962FF" stroke-opacity="0.85" stroke-width="1.1" stroke-linejoin="round"/>
</g>
<text x="-1" y="16.9" font-size="11.6" fill="#4a4e58" text-anchor="start" font-weight="normal" textLength="294.3" lengthAdjust="spacingAndGlyphs" stroke="#4a4e58" stroke-width="0.22">ufavour published on TradingView.com, Apr 24, 2024 15:11 UTC</text>
<text x="0" y="39.7" font-size="10" fill="#131722" text-anchor="start" font-weight="normal" textLength="172.7" lengthAdjust="spacingAndGlyphs" stroke="#131722" stroke-width="0.22" opacity="0.8">U.S. Dollar / Japanese Yen, 1D, FXCM</text>
<text x="179.7" y="39.7" font-size="10" fill="#131722" text-anchor="start" font-weight="normal" textLength="6.8" lengthAdjust="spacingAndGlyphs" stroke="#131722" stroke-width="0.22" opacity="0.8">O</text>
<text x="187.5" y="39.7" font-size="10" fill="#089981" text-anchor="start" font-weight="normal" textLength="35.5" lengthAdjust="spacingAndGlyphs" stroke="#089981" stroke-width="0.22">154.828</text>
<text x="229.7" y="39.7" font-size="10" fill="#131722" text-anchor="start" font-weight="normal" textLength="6" lengthAdjust="spacingAndGlyphs" stroke="#131722" stroke-width="0.22" opacity="0.8">H</text>
<text x="237" y="39.7" font-size="10" fill="#089981" text-anchor="start" font-weight="normal" textLength="34.3" lengthAdjust="spacingAndGlyphs" stroke="#089981" stroke-width="0.22">155.172</text>
<text x="279.2" y="39.7" font-size="10" fill="#131722" text-anchor="start" font-weight="normal" textLength="4.6" lengthAdjust="spacingAndGlyphs" stroke="#131722" stroke-width="0.22" opacity="0.8">L</text>
<text x="284.7" y="39.7" font-size="10" fill="#089981" text-anchor="start" font-weight="normal" textLength="35.3" lengthAdjust="spacingAndGlyphs" stroke="#089981" stroke-width="0.22">154.727</text>
<text x="327.5" y="39.7" font-size="10" fill="#131722" text-anchor="start" font-weight="normal" textLength="5.6" lengthAdjust="spacingAndGlyphs" stroke="#131722" stroke-width="0.22" opacity="0.8">C</text>
<text x="332.7" y="39.7" font-size="10" fill="#089981" text-anchor="start" font-weight="normal" textLength="35.6" lengthAdjust="spacingAndGlyphs" stroke="#089981" stroke-width="0.22">155.007</text>
<text x="376" y="39.7" font-size="10" fill="#089981" text-anchor="start" font-weight="normal" textLength="71.7" lengthAdjust="spacingAndGlyphs" stroke="#089981" stroke-width="0.22">+0.179 (+0.12%)</text>
<text x="0" y="54.4" font-size="10" fill="#131722" text-anchor="start" font-weight="normal" textLength="125" lengthAdjust="spacingAndGlyphs" stroke="#131722" stroke-width="0.22" opacity="0.8">EMA (50, close, 0, SMA, 50)</text>
<text x="132.8" y="54.4" font-size="10" fill="#2962FF" text-anchor="start" font-weight="normal" textLength="35.2" lengthAdjust="spacingAndGlyphs" stroke="#2962FF" stroke-width="0.22">151.457</text>
<text x="0" y="277" font-size="10" fill="#131722" text-anchor="start" font-weight="normal" textLength="70" lengthAdjust="spacingAndGlyphs" stroke="#131722" stroke-width="0.22" opacity="0.8">Stoch (14, 1, 3)</text>
<text x="77" y="277" font-size="10" fill="#2962FF" text-anchor="start" font-weight="normal" textLength="25" lengthAdjust="spacingAndGlyphs" stroke="#2962FF" stroke-width="0.22">96.22</text>
<text x="109.2" y="277" font-size="10" fill="#FF6D00" text-anchor="start" font-weight="normal" textLength="25" lengthAdjust="spacingAndGlyphs" stroke="#FF6D00" stroke-width="0.22">98.33</text>
<text x="616.4" y="48.3" font-size="11.3" fill="#131722" text-anchor="start" font-weight="normal" textLength="120.5" lengthAdjust="spacingAndGlyphs" stroke="#131722" stroke-width="0.22" opacity="0.85">Upper Resistance Area</text>
<clipPath id="pax"><rect x="852" y="24" width="48" height="236.2"/></clipPath><g clip-path="url(#pax)">
<text x="860" y="53.24749999999999" font-size="11.5" fill="#131722" text-anchor="start" font-weight="normal" textLength="35.6" lengthAdjust="spacingAndGlyphs" stroke="#131722" stroke-width="0.22" opacity="0.85">162.500</text>
<text x="860" y="79.37" font-size="11.5" fill="#131722" text-anchor="start" font-weight="normal" textLength="35.6" lengthAdjust="spacingAndGlyphs" stroke="#131722" stroke-width="0.22" opacity="0.85">160.000</text>
<text x="860" y="105.4925" font-size="11.5" fill="#131722" text-anchor="start" font-weight="normal" textLength="35.6" lengthAdjust="spacingAndGlyphs" stroke="#131722" stroke-width="0.22" opacity="0.85">157.500</text>
<text x="860" y="157.73749999999998" font-size="11.5" fill="#131722" text-anchor="start" font-weight="normal" textLength="35.6" lengthAdjust="spacingAndGlyphs" stroke="#131722" stroke-width="0.22" opacity="0.85">152.500</text>
<text x="860" y="183.85999999999999" font-size="11.5" fill="#131722" text-anchor="start" font-weight="normal" textLength="35.6" lengthAdjust="spacingAndGlyphs" stroke="#131722" stroke-width="0.22" opacity="0.85">150.000</text>
<text x="860" y="209.9825" font-size="11.5" fill="#131722" text-anchor="start" font-weight="normal" textLength="35.6" lengthAdjust="spacingAndGlyphs" stroke="#131722" stroke-width="0.22" opacity="0.85">147.500</text>
<text x="860" y="236.105" font-size="11.5" fill="#131722" text-anchor="start" font-weight="normal" textLength="35.6" lengthAdjust="spacingAndGlyphs" stroke="#131722" stroke-width="0.22" opacity="0.85">145.000</text>
<text x="860" y="262.22749999999996" font-size="11.5" fill="#131722" text-anchor="start" font-weight="normal" textLength="35.6" lengthAdjust="spacingAndGlyphs" stroke="#131722" stroke-width="0.22" opacity="0.85">142.500</text>
</g>
<rect x="852.6" y="120" width="47.4" height="26.8" fill="#089981"/>
<text x="860" y="131.3" font-size="11" fill="#fff" text-anchor="start" font-weight="normal" textLength="36" lengthAdjust="spacingAndGlyphs" stroke="#fff" stroke-width="0.4">155.007</text>
<text x="859.4" y="143.8" font-size="11" fill="#fff" text-anchor="start" font-weight="normal" textLength="39" lengthAdjust="spacingAndGlyphs" stroke="#fff" stroke-width="0.22" opacity="0.9">05:48:41</text>
<rect x="852.6" y="157" width="47.4" height="14.4" fill="#2962FF"/>
<text x="860" y="168.3" font-size="11" fill="#fff" text-anchor="start" font-weight="normal" textLength="36" lengthAdjust="spacingAndGlyphs" stroke="#fff" stroke-width="0.4">151.457</text>
<text x="859.7" y="317.2" font-size="11" fill="#131722" text-anchor="start" font-weight="normal" textLength="25.2" lengthAdjust="spacingAndGlyphs" stroke="#131722" stroke-width="0.22" opacity="0.85">80.00</text>
<text x="859.7" y="345.2" font-size="11" fill="#131722" text-anchor="start" font-weight="normal" textLength="25.2" lengthAdjust="spacingAndGlyphs" stroke="#131722" stroke-width="0.22" opacity="0.85">60.00</text>
<text x="859.7" y="373.2" font-size="11" fill="#131722" text-anchor="start" font-weight="normal" textLength="25.2" lengthAdjust="spacingAndGlyphs" stroke="#131722" stroke-width="0.22" opacity="0.85">40.00</text>
<text x="859.7" y="401.2" font-size="11" fill="#131722" text-anchor="start" font-weight="normal" textLength="25.2" lengthAdjust="spacingAndGlyphs" stroke="#131722" stroke-width="0.22" opacity="0.85">20.00</text>
<text x="859.7" y="429.2" font-size="11" fill="#131722" text-anchor="start" font-weight="normal" textLength="20" lengthAdjust="spacingAndGlyphs" stroke="#131722" stroke-width="0.22" opacity="0.85">0.00</text>
<rect x="852.4" y="267.8" width="37.2" height="14.5" fill="#FF6D00"/>
<text x="859.5" y="279" font-size="11" fill="#fff" text-anchor="start" font-weight="normal" textLength="25.5" lengthAdjust="spacingAndGlyphs" stroke="#fff" stroke-width="0.4">98.33</text>
<rect x="852.4" y="282.3" width="37.2" height="14.4" fill="#2962FF"/>
<text x="859.5" y="293.5" font-size="11" fill="#fff" text-anchor="start" font-weight="normal" textLength="25.5" lengthAdjust="spacingAndGlyphs" stroke="#fff" stroke-width="0.4">96.22</text>
<text x="31.5" y="461" font-size="10.7" fill="#131722" text-anchor="middle" font-weight="normal" textLength="16" lengthAdjust="spacingAndGlyphs" stroke="#131722" stroke-width="0.22" opacity="0.85">Oct</text>
<text x="145.8" y="461" font-size="10.7" fill="#131722" text-anchor="middle" font-weight="normal" textLength="17" lengthAdjust="spacingAndGlyphs" stroke="#131722" stroke-width="0.22" opacity="0.85">Nov</text>
<text x="260.5" y="461" font-size="10.7" fill="#131722" text-anchor="middle" font-weight="normal" textLength="16.5" lengthAdjust="spacingAndGlyphs" stroke="#131722" stroke-width="0.22" opacity="0.85">Dec</text>
<text x="370.0" y="461" font-size="10.7" fill="#131722" text-anchor="middle" font-weight="normal" textLength="23.5" lengthAdjust="spacingAndGlyphs" opacity="0.85" stroke="#131722" stroke-width="0.45">2024</text>
<text x="484.4" y="461" font-size="10.7" fill="#131722" text-anchor="middle" font-weight="normal" textLength="16" lengthAdjust="spacingAndGlyphs" stroke="#131722" stroke-width="0.22" opacity="0.85">Feb</text>
<text x="593.8" y="461" font-size="10.7" fill="#131722" text-anchor="middle" font-weight="normal" textLength="17" lengthAdjust="spacingAndGlyphs" stroke="#131722" stroke-width="0.22" opacity="0.85">Mar</text>
<text x="702.8" y="461" font-size="10.7" fill="#131722" text-anchor="middle" font-weight="normal" textLength="16" lengthAdjust="spacingAndGlyphs" stroke="#131722" stroke-width="0.22" opacity="0.85">Apr</text>
<text x="817.5" y="461" font-size="10.7" fill="#131722" text-anchor="middle" font-weight="normal" textLength="18" lengthAdjust="spacingAndGlyphs" stroke="#131722" stroke-width="0.22" opacity="0.85">May</text>
<rect x="0" y="480" width="1.2" height="1.6" fill="#131722"/>
<circle cx="1.9" cy="481.8" r="1.4" fill="#131722"/>
<path d="M4.5 480 H9 L6.4 488.5 H1.9 Z" fill="#131722"/>
<text x="13.3" y="488.8" font-size="11" fill="#131722" text-anchor="start" font-weight="normal" textLength="59.7" lengthAdjust="spacingAndGlyphs" stroke="#131722" stroke-width="0.22" opacity="0.8">TradingView</text>
<path d="M348 177.8 H390.5 Q398.4 177.8 398.4 185.7 V200.5 Q398.4 208.4 390.5 208.4 H376.2 L358 223.3 L361.9 208.4 H348 Q340.2 208.4 340.2 200.5 V185.7 Q340.2 177.8 348 177.8 Z" fill="#6790f8" stroke="#22a3aa" stroke-width="1.6" stroke-linejoin="round"/>
<text x="349.8" y="197" font-size="12" fill="#fff" text-anchor="start" font-weight="normal" textLength="39.4" lengthAdjust="spacingAndGlyphs" stroke="#fff" stroke-width="0.35">EMA-50</text>
<circle cx="791.6" cy="227.3" r="8.3" fill="#fff" stroke="#9c27b0" stroke-width="1.2"/>
<path d="M792.6 223.2 L787.4 227.9 H791.2 L788.6 232.2 L789.8 232.4 L793.6 226.8 H790 Z" fill="#9c27b0"/>
<circle cx="801.5" cy="226.8" r="8.6" fill="#eef1f8" stroke="#F23645" stroke-width="1.4"/>
<circle cx="801.5" cy="226.8" r="3.2" fill="#F23645" fill-opacity="0.9"/>
<defs>
<clipPath id="fl0"><circle cx="801.7" cy="248.2" r="7.2"/></clipPath>
<clipPath id="fl1"><circle cx="796.2" cy="248.2" r="7.2"/></clipPath>
<clipPath id="fl2"><circle cx="790.7" cy="248.2" r="7.2"/></clipPath>
</defs>
<circle cx="801.7" cy="248.2" r="8.3" fill="#fff" stroke="#F23645" stroke-width="1.5"/>
<g clip-path="url(#fl0)">
<rect x="793.7" y="240.2" width="16" height="16" fill="#fff"/>
<rect x="793.7" y="241.60" width="16" height="2.40" fill="#F23645" fill-opacity="0.9"/>
<rect x="793.7" y="246.60" width="16" height="3.00" fill="#F23645" fill-opacity="0.9"/>
<rect x="793.7" y="251.50" width="16" height="2.80" fill="#F23645" fill-opacity="0.9"/>
<rect x="793.7" y="240.2" width="10.3" height="9.7" fill="#3b82ee"/>
<rect x="796.70" y="243.70" width="0.8" height="0.7" fill="#fff" fill-opacity="0.7"/>
<rect x="798.70" y="243.70" width="0.8" height="0.7" fill="#fff" fill-opacity="0.7"/>
<rect x="800.70" y="243.70" width="0.8" height="0.7" fill="#fff" fill-opacity="0.7"/>
<rect x="796.70" y="246.00" width="0.8" height="0.7" fill="#fff" fill-opacity="0.7"/>
<rect x="798.70" y="246.00" width="0.8" height="0.7" fill="#fff" fill-opacity="0.7"/>
<rect x="800.70" y="246.00" width="0.8" height="0.7" fill="#fff" fill-opacity="0.7"/>
<rect x="796.70" y="248.20" width="0.8" height="0.7" fill="#fff" fill-opacity="0.7"/>
<rect x="798.70" y="248.20" width="0.8" height="0.7" fill="#fff" fill-opacity="0.7"/>
<rect x="800.70" y="248.20" width="0.8" height="0.7" fill="#fff" fill-opacity="0.7"/>
</g>
<circle cx="796.2" cy="248.2" r="8.3" fill="#fff" stroke="#F23645" stroke-width="1.5"/>
<g clip-path="url(#fl1)">
<rect x="788.2" y="240.2" width="16" height="16" fill="#fff"/>
<rect x="788.2" y="241.60" width="16" height="2.40" fill="#F23645" fill-opacity="0.9"/>
<rect x="788.2" y="246.60" width="16" height="3.00" fill="#F23645" fill-opacity="0.9"/>
<rect x="788.2" y="251.50" width="16" height="2.80" fill="#F23645" fill-opacity="0.9"/>
<rect x="788.2" y="240.2" width="10.3" height="9.7" fill="#3b82ee"/>
<rect x="791.20" y="243.70" width="0.8" height="0.7" fill="#fff" fill-opacity="0.7"/>
<rect x="793.20" y="243.70" width="0.8" height="0.7" fill="#fff" fill-opacity="0.7"/>
<rect x="795.20" y="243.70" width="0.8" height="0.7" fill="#fff" fill-opacity="0.7"/>
<rect x="791.20" y="246.00" width="0.8" height="0.7" fill="#fff" fill-opacity="0.7"/>
<rect x="793.20" y="246.00" width="0.8" height="0.7" fill="#fff" fill-opacity="0.7"/>
<rect x="795.20" y="246.00" width="0.8" height="0.7" fill="#fff" fill-opacity="0.7"/>
<rect x="791.20" y="248.20" width="0.8" height="0.7" fill="#fff" fill-opacity="0.7"/>
<rect x="793.20" y="248.20" width="0.8" height="0.7" fill="#fff" fill-opacity="0.7"/>
<rect x="795.20" y="248.20" width="0.8" height="0.7" fill="#fff" fill-opacity="0.7"/>
</g>
<circle cx="790.7" cy="248.2" r="8.3" fill="#fff" stroke="#F23645" stroke-width="1.5"/>
<g clip-path="url(#fl2)">
<rect x="782.7" y="240.2" width="16" height="16" fill="#fff"/>
<rect x="782.7" y="241.60" width="16" height="2.40" fill="#F23645" fill-opacity="0.9"/>
<rect x="782.7" y="246.60" width="16" height="3.00" fill="#F23645" fill-opacity="0.9"/>
<rect x="782.7" y="251.50" width="16" height="2.80" fill="#F23645" fill-opacity="0.9"/>
<rect x="782.7" y="240.2" width="10.3" height="9.7" fill="#3b82ee"/>
<rect x="785.70" y="243.70" width="0.8" height="0.7" fill="#fff" fill-opacity="0.7"/>
<rect x="787.70" y="243.70" width="0.8" height="0.7" fill="#fff" fill-opacity="0.7"/>
<rect x="789.70" y="243.70" width="0.8" height="0.7" fill="#fff" fill-opacity="0.7"/>
<rect x="785.70" y="246.00" width="0.8" height="0.7" fill="#fff" fill-opacity="0.7"/>
<rect x="787.70" y="246.00" width="0.8" height="0.7" fill="#fff" fill-opacity="0.7"/>
<rect x="789.70" y="246.00" width="0.8" height="0.7" fill="#fff" fill-opacity="0.7"/>
<rect x="785.70" y="248.20" width="0.8" height="0.7" fill="#fff" fill-opacity="0.7"/>
<rect x="787.70" y="248.20" width="0.8" height="0.7" fill="#fff" fill-opacity="0.7"/>
<rect x="789.70" y="248.20" width="0.8" height="0.7" fill="#fff" fill-opacity="0.7"/>
</g>
</svg>
</body></html>
